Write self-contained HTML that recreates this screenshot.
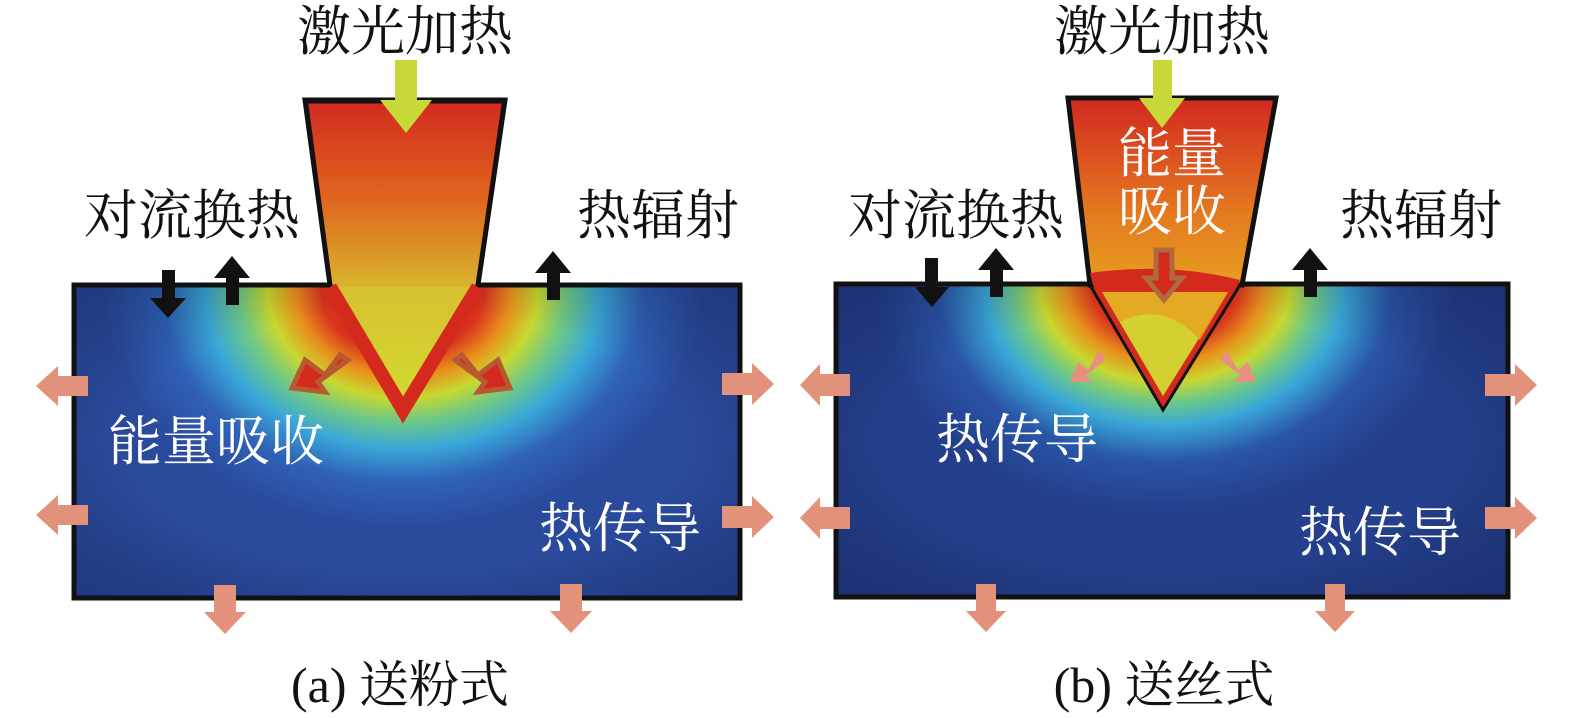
<!DOCTYPE html>
<html><head><meta charset="utf-8"><style>
html,body{margin:0;padding:0;background:#fff;}
svg{display:block}
text{font-family:"Liberation Serif","Noto Serif CJK SC","Noto Sans CJK SC",serif;}
</style></head><body>
<svg width="1575" height="718" viewBox="0 0 1575 718" xmlns="http://www.w3.org/2000/svg">
<defs>
<radialGradient id="heatA" cx="403" cy="290" r="300" gradientUnits="userSpaceOnUse" gradientTransform="translate(403 290) scale(1 0.8) translate(-403 -290)">
<stop offset="0" stop-color="#d42a1e"/>
<stop offset="0.27" stop-color="#d8331e"/>
<stop offset="0.36" stop-color="#e8901c"/>
<stop offset="0.45" stop-color="#c8d830"/>
<stop offset="0.55" stop-color="#6cc888"/>
<stop offset="0.66" stop-color="#3aa8d8"/>
<stop offset="0.8" stop-color="#2f62b8"/>
<stop offset="1" stop-color="#2a4a9c"/>
</radialGradient>
<radialGradient id="heatB" cx="1165" cy="285" r="290" gradientUnits="userSpaceOnUse" gradientTransform="translate(1165 285) scale(1 0.78) translate(-1165 -285)">
<stop offset="0" stop-color="#d42a1e"/>
<stop offset="0.25" stop-color="#d8331e"/>
<stop offset="0.34" stop-color="#e8901c"/>
<stop offset="0.43" stop-color="#c8d830"/>
<stop offset="0.52" stop-color="#6cc888"/>
<stop offset="0.62" stop-color="#3aa8d8"/>
<stop offset="0.78" stop-color="#2a55a8"/>
<stop offset="1" stop-color="#243f8c"/>
</radialGradient>
<linearGradient id="beamA" x1="0" y1="100" x2="0" y2="300" gradientUnits="userSpaceOnUse">
<stop offset="0" stop-color="#d22a20"/><stop offset="0.5" stop-color="#e0661e"/><stop offset="1" stop-color="#d8c030"/>
</linearGradient>
<linearGradient id="beamB" x1="0" y1="100" x2="0" y2="290" gradientUnits="userSpaceOnUse">
<stop offset="0" stop-color="#d22a20"/><stop offset="0.6" stop-color="#e47a20"/><stop offset="1" stop-color="#e8a020"/>
</linearGradient>
<linearGradient id="tipA" x1="0" y1="285" x2="0" y2="410" gradientUnits="userSpaceOnUse">
<stop offset="0" stop-color="#d8c030"/><stop offset="1" stop-color="#d0dc30"/>
</linearGradient>
<radialGradient id="edge" cx="0.5" cy="0.5" r="0.7">
<stop offset="0.6" stop-color="#000" stop-opacity="0"/><stop offset="1" stop-color="#0a1040" stop-opacity="0.3"/>
</radialGradient>
</defs>

<!-- Panel A -->
<rect x="74" y="285" width="666" height="313" fill="url(#heatA)"/>
<rect x="74" y="285" width="666" height="313" fill="url(#edge)"/>
<rect x="74" y="285" width="666" height="313" fill="none" stroke="#111" stroke-width="5"/>
<polygon points="305,100 505,100 478,285 403,410 330,285" fill="url(#beamA)" stroke="#111" stroke-width="5" stroke-linejoin="miter"/>
<polygon points="330,287 478,287 403,410" fill="url(#tipA)"/>
<polyline points="330,287 403,410 478,287" fill="none" stroke="#d42a1e" stroke-width="14"/>
<line x1="306" y1="101" x2="330" y2="285" stroke="#111" stroke-width="4"/>
<line x1="504" y1="101" x2="478" y2="285" stroke="#111" stroke-width="4"/>
<line x1="306" y1="101" x2="504" y2="101" stroke="#111" stroke-width="5"/>
<!-- yellow arrow -->
<polygon points="395,60 417,60 417,100 432,100 406,133 380,100 395,100" fill="#c8d838"/>
<!-- red diagonal arrows -->
<g fill="#d42a1e" stroke="#b85a30" stroke-width="5" stroke-linejoin="miter">
<polygon points="340,355 325,375 305,360 292,388 325,392 318,382 348,360"/>
<polygon points="462,355 478,375 498,360 510,388 478,392 485,382 455,360"/>
</g>
<!-- black arrows -->
<g fill="#111">
<polygon points="162,270 175,270 175,298 186,298 168,318 150,298 162,298"/>
<polygon points="226,305 239,305 239,278 250,278 232,256 214,278 226,278"/>
<polygon points="547,300 560,300 560,273 571,273 553,251 535,273 547,273"/>
</g>
<!-- salmon arrows -->
<g fill="#e2927a">
<polygon points="88,376 88,396 58,396 58,406 36,386 58,366 58,376"/>
<polygon points="88,505 88,525 58,525 58,535 36,515 58,495 58,505"/>
<polygon points="722,373 722,395 752,395 752,405 774,384 752,363 752,373"/>
<polygon points="722,506 722,528 752,528 752,538 774,517 752,496 752,506"/>
<polygon points="214,585 236,585 236,612 246,612 225,634 204,612 214,612"/>
<polygon points="560,584 582,584 582,611 592,611 571,633 550,611 560,611"/>
</g>

<!-- Panel B -->
<rect x="836" y="284" width="672" height="313" fill="url(#heatB)"/>
<rect x="836" y="284" width="672" height="313" fill="url(#edge)"/>
<rect x="836" y="284" width="672" height="313" fill="none" stroke="#111" stroke-width="5"/>
<polygon points="1068,98 1276,98 1242,285 1090,285" fill="url(#beamB)" stroke="#111" stroke-width="5"/>
<path d="M1090,273 Q1170,262 1240,280 L1236,290 L1163,408 L1093,285 Z" fill="#d42a1e"/>
<polygon points="1102,292 1228,292 1163,396" fill="#d4d030"/>
<path d="M1102,292 L1228,292 L1200,340 Q1163,300 1120,322 Z" fill="#e8a020" opacity="0.8"/>
<polyline points="1090,285 1163,410 1240,285" fill="none" stroke="#111" stroke-width="3"/>
<polygon points="1153,60 1172,60 1172,98 1185,98 1162,128 1139,98 1153,98" fill="#c8d838"/>
<polygon points="1156,250 1172,250 1172,278 1182,278 1164,300 1146,278 1156,278" fill="#d42a1e" stroke="#b06a40" stroke-width="5"/>
<g fill="#e8907e">
<polygon points="1100,350 1088,370 1078,362 1070,382 1092,382 1086,375 1106,360"/>
<polygon points="1226,350 1238,370 1248,362 1256,382 1234,382 1240,375 1220,360"/>
</g>
<g fill="#111">
<polygon points="925,258 938,258 938,287 949,287 932,307 915,287 925,287"/>
<polygon points="990,297 1003,297 1003,270 1014,270 996,248 978,270 990,270"/>
<polygon points="1304,297 1317,297 1317,270 1328,270 1310,248 1292,270 1304,270"/>
</g>
<g fill="#e2927a">
<polygon points="850,374 850,396 820,396 820,406 800,385 820,364 820,374"/>
<polygon points="850,507 850,529 820,529 820,539 800,518 820,497 820,507"/>
<polygon points="1485,374 1485,396 1515,396 1515,406 1537,385 1515,364 1515,374"/>
<polygon points="1485,507 1485,529 1515,529 1515,539 1537,518 1515,497 1515,507"/>
<polygon points="976,584 996,584 996,611 1006,611 986,632 966,611 976,611"/>
<polygon points="1325,584 1345,584 1345,611 1355,611 1335,632 1315,611 1325,611"/>
</g>

<!-- Text -->
<g font-size="54" fill="#111">
<text x="405" y="50" text-anchor="middle">激光加热</text>
<text x="1162" y="50" text-anchor="middle">激光加热</text>
<text x="192" y="234" text-anchor="middle">对流换热</text>
<text x="658" y="234" text-anchor="middle">热辐射</text>
<text x="956" y="234" text-anchor="middle">对流换热</text>
<text x="1421" y="234" text-anchor="middle">热辐射</text>
</g>
<g font-size="54" fill="#fff">
<text x="216" y="460" text-anchor="middle">能量吸收</text>
<text x="620" y="547" text-anchor="middle">热传导</text>
<text x="1172" y="172" text-anchor="middle">能量</text>
<text x="1172" y="230" text-anchor="middle">吸收</text>
<text x="1017" y="458" text-anchor="middle">热传导</text>
<text x="1380" y="551" text-anchor="middle">热传导</text>
</g>
<g font-size="50" fill="#111">
<text x="400" y="702" text-anchor="middle">(a) 送粉式</text>
<text x="1164" y="702" text-anchor="middle">(b) 送丝式</text>
</g>
</svg>
</body></html>
